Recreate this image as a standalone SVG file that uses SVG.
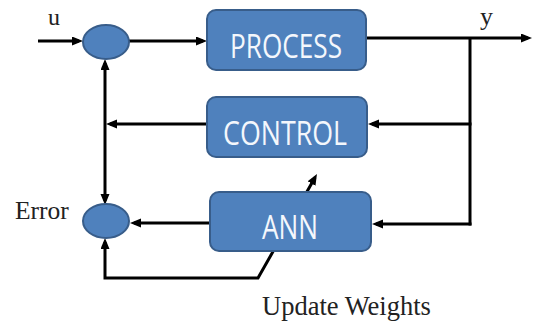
<svg xmlns="http://www.w3.org/2000/svg" width="534" height="324" viewBox="0 0 534 324">
  <style>
    .wire { fill: none; stroke: #000; stroke-width: 3; }
    .box { fill: #4f81bd; stroke: #385d8a; stroke-width: 2; }
    .sum { fill: #4f81bd; stroke: #385d8a; stroke-width: 2; }
    .boxlabel { font-family: "Open Sans", "Noto Sans", sans-serif; font-size: 32px; fill: #f4f7fc; text-anchor: middle; }
    .label { font-family: "Liberation Serif", "Times New Roman", serif; fill: #222; }
  </style>
  <defs>
    <marker id="arrow" markerUnits="userSpaceOnUse" markerWidth="12" markerHeight="10" refX="7" refY="4.5" orient="auto-start-reverse">
      <path d="M0,0 L11,4.5 L0,9 z" fill="#000"/>
    </marker>
  </defs>

  <g id="connectors">
    <!-- input u into the upper summing junction -->
    <line class="wire" x1="38" y1="41" x2="79" y2="41" marker-end="url(#arrow)"/>
    <!-- junction to PROCESS -->
    <line class="wire" x1="129" y1="41" x2="203" y2="41" marker-end="url(#arrow)"/>
    <!-- output y -->
    <line class="wire" x1="366" y1="38" x2="528" y2="38" marker-end="url(#arrow)"/>
    <!-- feedback tap on the output -->
    <line class="wire" x1="470" y1="38" x2="470" y2="225.5"/>
    <line class="wire" x1="471.5" y1="124" x2="372" y2="124" marker-end="url(#arrow)"/>
    <line class="wire" x1="471.5" y1="224" x2="376" y2="224" marker-end="url(#arrow)"/>
    <!-- CONTROL back to the left bus -->
    <line class="wire" x1="207" y1="124" x2="110" y2="124" marker-end="url(#arrow)"/>
    <!-- left bus between both junctions -->
    <line class="wire" x1="105" y1="63" x2="105" y2="201" marker-start="url(#arrow)" marker-end="url(#arrow)"/>
    <!-- ANN into the error junction -->
    <line class="wire" x1="210" y1="223" x2="134" y2="223" marker-end="url(#arrow)"/>
    <!-- error feedback loop that updates the weights -->
    <path class="wire" d="M105,242 L105,278 L258,278 L315,177.5" marker-start="url(#arrow)" marker-end="url(#arrow)"/>
  </g>

  <g id="sum-top">
    <ellipse class="sum" cx="106" cy="42" rx="23" ry="17"/>
  </g>
  <g id="sum-error">
    <ellipse class="sum" cx="106" cy="221" rx="23" ry="17"/>
  </g>

  <g id="process">
    <rect class="box" x="207" y="10" width="159" height="60" rx="9"/>
    <text class="boxlabel" x="286" y="58" textLength="112" lengthAdjust="spacingAndGlyphs">PROCESS</text>
  </g>
  <g id="control">
    <rect class="box" x="207" y="97" width="160" height="60" rx="9"/>
    <text class="boxlabel" x="285" y="145" textLength="124" lengthAdjust="spacingAndGlyphs">CONTROL</text>
  </g>
  <g id="ann">
    <rect class="box" x="210" y="192" width="161" height="59" rx="9"/>
    <text class="boxlabel" x="290" y="239" textLength="56" lengthAdjust="spacingAndGlyphs">ANN</text>
  </g>

  <g id="labels">
    <text class="label" x="48" y="25" font-size="24">u</text>
    <text class="label" x="480" y="25" font-size="26">y</text>
    <text class="label" x="15" y="219" font-size="25.5">Error</text>
    <text class="label" x="262" y="315" font-size="26.5">Update Weights</text>
  </g>
</svg>
